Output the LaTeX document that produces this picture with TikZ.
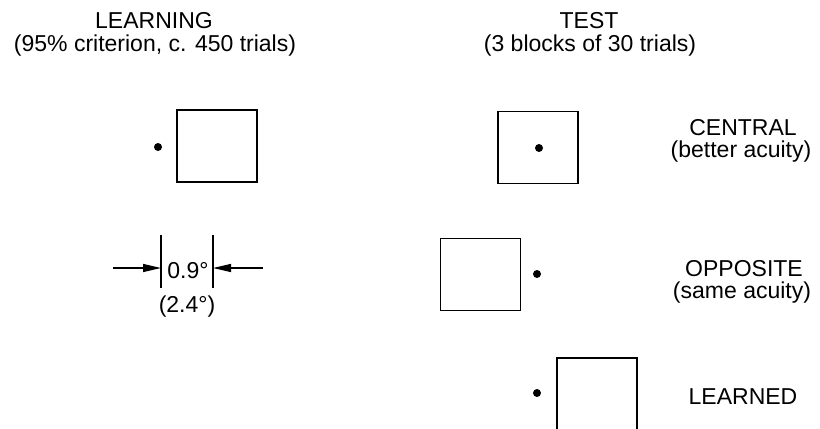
\documentclass[tikz,border=0pt]{standalone}
\usepackage{fontspec}
\setmainfont{Liberation Sans}
\usetikzlibrary{arrows.meta}
\begin{document}
\begin{tikzpicture}[x=1bp,y=-1bp,
  txt/.style={anchor=base,inner sep=0pt,font=\fontsize{23bp}{20bp}\selectfont},
  sq/.style={draw,line width=1.7bp,minimum width=80bp,minimum height=72bp,inner sep=0pt},
  spot/.style={circle,fill,inner sep=0pt,minimum size=8bp},
  dimline/.style={line width=1.3bp},
  arr/.style={line width=1.3bp,-{Triangle[length=18bp,width=8bp]}}]
\useasboundingbox (0,0) rectangle (820,428);
\clip (0,0) rectangle (820,428);
% headings
\node[txt] (h1) at (154,28) {LEARNING};
\node[txt] (h1b) at (155,51) {(95\% criterion, c. 450 trials)};
\node[txt] (h2) at (589,28) {TEST};
\node[txt] (h2b) at (590,51) {(3 blocks of 30 trials)};
% learning stimulus
\node[sq] (sqL) at (217,146) {};
\node[spot] (dotL) at (158,147) {};
% dimension
\coordinate (v1t) at (161,235);
\coordinate (v1b) at (161,288);
\coordinate (v2t) at (213,235);
\coordinate (v2b) at (213,288);
\coordinate (aL) at (113,268);
\coordinate (aR) at (263,268);
\draw[dimline] (v1t) -- (v1b);
\draw[dimline] (v2t) -- (v2b);
\draw[arr] (aL) -- (aL -| v1t);
\draw[arr] (aR) -- (aR -| v2t);
\node[txt] (d1) at (188,278) {0.9°};
\node[txt] (d2) at (187,312) {(2.4°)};
% test stimuli
\node[sq] (sqC) at (538,147.5) {};
\node[spot] (dotC) at (539,148) {};
\node[sq] (sqO) at (480.5,274.5) {};
\node[spot] (dotO) at (537,274) {};
\node[sq] (sqN) at (597,394) {};
\node[spot] (dotN) at (537,393) {};
% labels
\node[txt] (lC) at (743,135) {CENTRAL};
\node[txt] (lCb) at (741,157) {(better acuity)};
\node[txt] (lO) at (744,276) {OPPOSITE};
\node[txt] (lOb) at (742,298) {(same acuity)};
\node[txt] (lN) at (743,404) {LEARNED};
\end{tikzpicture}
\end{document}
